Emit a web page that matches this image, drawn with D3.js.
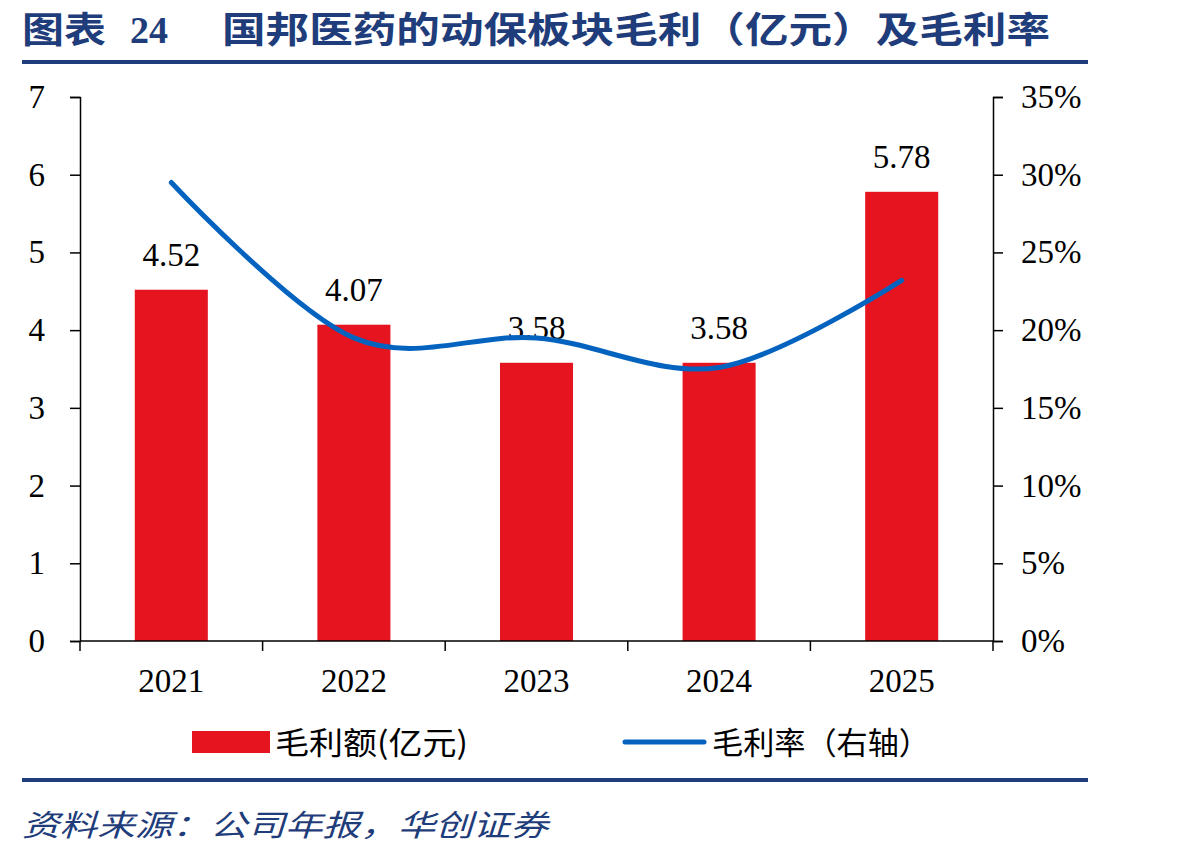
<!DOCTYPE html>
<html><head><meta charset="utf-8">
<script src="https://cdn.jsdelivr.net/npm/d3@7"></script>
<style>body{margin:0;background:#fff}svg{display:block}</style>
</head><body>
<svg id="c" width="1198" height="857"></svg>
<script>
const categories = ["2021","2022","2023","2024","2025"];
const grossProfit = [4.52, 4.07, 3.58, 3.58, 5.78];
const grossMargin = [29.5, 19.5, 19.5, 17.6, 23.2];
const leftTicks = [0,1,2,3,4,5,6,7];
const rightTicks = [0,5,10,15,20,25,30,35];
const title1 = "图表", title2 = "24", title3 = "国邦医药的动保板块毛利（亿元）及毛利率";
const legendLabels = ["毛利额(亿元)", "毛利率（右轴）"];
const sourceText = "资料来源：公司年报，华创证券";

const svg = d3.select("#c");
const L = 80, R = 993, T = 97, B = 641;
const RED = "#e5141f", BLUE = "#0563c0", NAVY = "#1f3d7a";
const serif = "'Liberation Serif','Times New Roman',serif";
const cjk = "'Noto Sans CJK SC','Noto Sans',sans-serif";
const FS = 33;

const x = d3.scaleBand().domain(categories).range([L, R]).paddingInner(0.6).paddingOuter(0.3);
const xb = d3.scaleBand().domain(categories).range([L, R]);
const yL = d3.scaleLinear().domain([0, 7]).range([B, T]);
const yR = d3.scaleLinear().domain([0, 35]).range([B, T]);

// title
const tg = svg.append("g").attr("fill", NAVY).attr("font-family", cjk).attr("font-weight", "bold").attr("font-size", 36);
tg.append("text").attr("x", 22).attr("y", 43).attr("textLength", 84).attr("lengthAdjust","spacingAndGlyphs").text(title1);
tg.append("text").attr("x", 130).attr("y", 43).attr("font-family", serif).attr("font-size", 38).text(title2);
tg.append("text").attr("x", 222).attr("y", 43).attr("textLength", 828).attr("lengthAdjust","spacingAndGlyphs").text(title3);
svg.append("rect").attr("x", 22).attr("y", 60).attr("width", 1066).attr("height", 4).attr("fill", NAVY);

// bars
svg.append("g").selectAll("rect").data(categories).join("rect")
  .attr("x", d => x(d)).attr("width", x.bandwidth())
  .attr("y", (d,i) => yL(grossProfit[i])).attr("height", (d,i) => B - yL(grossProfit[i]))
  .attr("fill", RED);

// bar labels
svg.append("g").selectAll("text").data(categories).join("text")
  .attr("x", d => x(d) + x.bandwidth()/2).attr("y", (d,i) => yL(grossProfit[i]) - 24)
  .attr("text-anchor", "middle").attr("font-family", serif).attr("font-size", FS).attr("fill", "#000")
  .text((d,i) => grossProfit[i].toFixed(2));

// axes
const axStyle = g => { g.selectAll("path,line").attr("stroke", "#000").attr("stroke-width", 1.5);
  g.selectAll("text").attr("font-family", serif).attr("font-size", FS).attr("fill", "#000"); };
svg.append("g").attr("transform", `translate(${L},0)`)
  .call(d3.axisLeft(yL).tickValues(leftTicks).tickSizeOuter(0).tickSize(10).tickPadding(25).tickFormat(d3.format("d"))).call(axStyle);
svg.append("g").attr("transform", `translate(${R},0)`)
  .call(d3.axisRight(yR).tickValues(rightTicks).tickSizeOuter(0).tickSize(10).tickPadding(18).tickFormat(d => d + "%")).call(axStyle);
const xa = svg.append("g").attr("transform", `translate(0,${B})`);
xa.append("line").attr("x1", L).attr("x2", R).attr("stroke", "#000").attr("stroke-width", 1.5);
xa.selectAll("line.t").data(categories.concat(["end"])).join("line").attr("class","t")
  .attr("x1", (d,i) => i < categories.length ? xb(d) : R).attr("x2", (d,i) => i < categories.length ? xb(d) : R)
  .attr("y1", 0).attr("y2", 10).attr("stroke", "#000").attr("stroke-width", 1.5);
xa.selectAll("text").data(categories).join("text")
  .attr("x", d => xb(d) + xb.bandwidth()/2).attr("y", 51).attr("text-anchor", "middle")
  .attr("font-family", serif).attr("font-size", FS).attr("fill", "#000").text(d => d);

// line
const line = d3.line().x((d,i) => x(categories[i]) + x.bandwidth()/2).y(d => yR(d)).curve(d3.curveCatmullRom.alpha(0));
svg.append("path").datum(grossMargin).attr("d", line).attr("fill", "none")
  .attr("stroke", BLUE).attr("stroke-width", 5).attr("stroke-linecap", "round");

// legend
svg.append("rect").attr("x", 192).attr("y", 731).attr("width", 78).attr("height", 22).attr("fill", RED);
svg.append("text").attr("x", 275).attr("y", 754).attr("font-family", cjk).attr("font-size", 31).attr("fill", "#000")
  .attr("textLength", 193).attr("lengthAdjust","spacingAndGlyphs").text(legendLabels[0]);
svg.append("line").attr("x1", 625).attr("x2", 704).attr("y1", 742).attr("y2", 742)
  .attr("stroke", BLUE).attr("stroke-width", 5).attr("stroke-linecap", "round");
svg.append("text").attr("x", 712).attr("y", 754).attr("font-family", cjk).attr("font-size", 31).attr("fill", "#000")
  .attr("textLength", 218).attr("lengthAdjust","spacingAndGlyphs").text(legendLabels[1]);

// footer
svg.append("rect").attr("x", 22).attr("y", 778).attr("width", 1066).attr("height", 4).attr("fill", NAVY);
svg.append("text").attr("x", 22).attr("y", 836).attr("font-family", cjk).attr("font-style", "italic")
  .attr("font-size", 30).attr("fill", NAVY).attr("textLength", 526).attr("lengthAdjust","spacingAndGlyphs").text(sourceText);
</script>
</body></html>
